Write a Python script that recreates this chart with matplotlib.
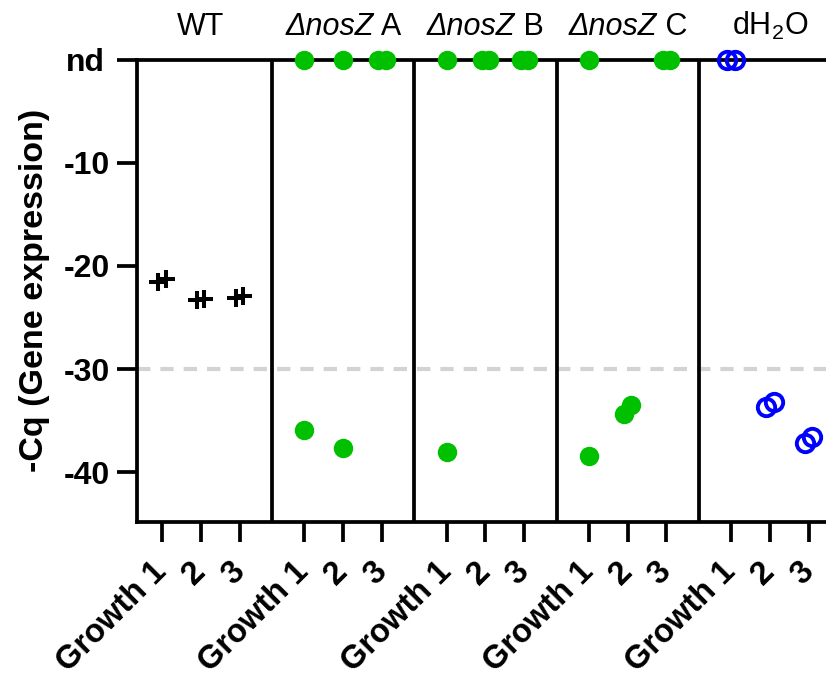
import numpy as np
import matplotlib
matplotlib.use("Agg")
import matplotlib.pyplot as plt
from matplotlib.transforms import blended_transform_factory, ScaledTranslation

plt.rcParams['font.family'] = ['Liberation Sans', 'DejaVu Sans']
plt.rcParams['mathtext.fontset'] = 'custom'
plt.rcParams['mathtext.rm'] = 'Liberation Sans'
plt.rcParams['mathtext.it'] = 'Liberation Sans:italic'

# nd = not detected (plotted on the "nd" line at the top of the axis)
ND = None

# group titles: (italic part, upright part)
groups = [('', 'WT'), ('ΔnosZ', ' A'), ('ΔnosZ', ' B'), ('ΔnosZ', ' C'), ('', r'dH$_2$O')]
growth_labels = ['Growth 1', '2', '3']

# -Cq values: each growth has two technical replicates
wt = [[-21.6, -21.3], [-23.3, -23.2], [-23.1, -22.95]]
nosz_a = [[ND, -35.9], [ND, -37.6], [ND, ND]]
nosz_b = [[ND, -38.0], [ND, ND], [ND, ND]]
nosz_c = [[ND, -38.4], [-34.3, -33.5], [ND, ND]]
dh2o = [[ND, ND], [-33.7, -33.2], [-37.1, -36.6]]

y_ticks = [0, -10, -20, -30, -40]
y_tick_labels = ['nd', '-10', '-20', '-30', '-40']
threshold = -30

group_data = [wt, nosz_a, nosz_b, nosz_c, dh2o]
green = '#00c000'
blue = '#0000ff'
styles = [
    dict(marker='+', color='black', markersize=13, markeredgewidth=2.9, linestyle='none'),
    dict(marker='o', color=green, markersize=14, markeredgewidth=0, linestyle='none'),
    dict(marker='o', color=green, markersize=14, markeredgewidth=0, linestyle='none'),
    dict(marker='o', color=green, markersize=14, markeredgewidth=0, linestyle='none'),
    dict(marker='o', markerfacecolor='none', markeredgecolor=blue, markersize=12.5,
         markeredgewidth=2.8, linestyle='none'),
]

GROUP_STEP = 11 / 3
SPREAD = 0.095
LW = 2.7

fig = plt.figure(figsize=(8.26, 6.79), dpi=100)
ax_h = (522 - 59.5)
ax = fig.add_axes([137 / 826, 1 - 522 / 679, 1 - 137 / 826, ax_h / 679])

tick_pos = []
for g, (reps, st) in enumerate(zip(group_data, styles)):
    for r, pair in enumerate(reps):
        center = g * GROUP_STEP + r
        tick_pos.append(center)
        vals = [0.0 if v is None else v for v in pair]
        order = np.argsort(vals)
        vals_sorted = [vals[i] for i in order]
        if abs(vals_sorted[1] - vals_sorted[0]) < 2.0:
            xs = [center - SPREAD, center + SPREAD]
        else:
            xs = [center, center]
        ax.plot(xs, vals_sorted, clip_on=False, zorder=5, **st)

# group separators
for g in range(1, len(groups) + 1):
    ax.axvline(g * GROUP_STEP - (GROUP_STEP - 2) / 2, color='black', lw=LW, zorder=3)

ax.axhline(threshold, color='#d3d3d3', lw=3, ls=(0, (3.2, 2.4)), zorder=1)

ax.set_xlim(-0.644, 17.11)
ax.set_ylim(-44.8, 0)

ax.set_yticks(y_ticks)
ax.set_yticklabels(y_tick_labels, fontsize=23, fontweight='bold')
ax.set_xticks(tick_pos)
ax.set_xticklabels(growth_labels * len(groups), fontsize=23.5, fontweight='bold',
                   rotation=45, ha='right', va='center', rotation_mode='anchor')

ax.tick_params(axis='both', length=14.5, width=LW, color='black')
ax.tick_params(axis='y', pad=5)
ax.tick_params(axis='x', pad=18)

# "nd" sits a little further from the axis than the numbers
nd_label = ax.get_yticklabels()[0]
nd_label.set_transform(nd_label.get_transform() + ScaledTranslation(-5 / 100, 0, fig.dpi_scale_trans))

for side in ['left', 'bottom', 'top']:
    ax.spines[side].set_linewidth(LW)
ax.spines['right'].set_visible(False)

ax.set_ylabel('-Cq (Gene expression)', fontsize=24.5, fontweight='bold')
ax.yaxis.set_label_coords((50 - 137) / (826 - 137), 0.5)

# group titles, italic gene name followed by upright strain letter
trans = blended_transform_factory(ax.transData, ax.transAxes)
renderer = fig.canvas.get_renderer()
title_y = 1 + 24.5 / ax_h
for g, (ital, upright) in enumerate(groups):
    xc = g * GROUP_STEP + 1
    t_it = ax.text(xc, title_y, ital, transform=trans, ha='left', va='baseline',
                   fontsize=22, fontstyle='italic')
    t_up = ax.text(xc, title_y, upright, transform=trans, ha='left', va='baseline',
                   fontsize=22)
    w_it = t_it.get_window_extent(renderer).width if ital else 0.0
    w_up = t_up.get_window_extent(renderer).width
    total = w_it + w_up
    shift_it = -total / 2
    shift_up = -total / 2 + w_it
    t_it.set_transform(trans + ScaledTranslation(shift_it / fig.dpi, 0, fig.dpi_scale_trans))
    t_up.set_transform(trans + ScaledTranslation(shift_up / fig.dpi, 0, fig.dpi_scale_trans))

fig.savefig('out.png', dpi=100)
